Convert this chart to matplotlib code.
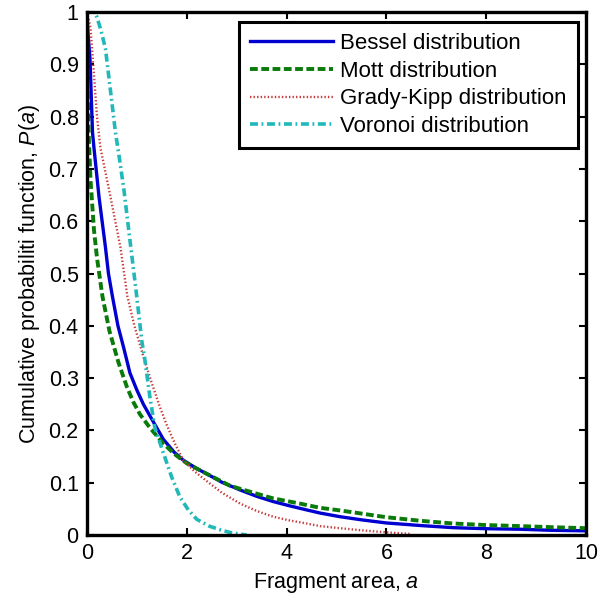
import matplotlib
matplotlib.use("Agg")
import matplotlib.pyplot as plt

plt.rcParams['font.family'] = ['Liberation Sans', 'DejaVu Sans']
plt.rcParams['mathtext.fontset'] = 'custom'
plt.rcParams['mathtext.rm'] = 'Liberation Sans'
plt.rcParams['mathtext.it'] = 'Liberation Sans:italic'

# Data
bessel_a = [0, 0.02, 0.06, 0.11, 0.14, 0.24, 0.37, 0.43, 0.51, 0.62, 0.73, 0.86, 1.0, 1.13,
            1.26, 1.53, 1.75, 1.93, 2.2, 2.4, 2.7, 3.07, 3.4, 3.73, 4.05, 4.4, 4.67, 5.07,
            5.5, 6.0, 6.7, 7.34, 8.0, 8.68, 9.3, 10]
bessel_p = [1.0, 0.96, 0.91, 0.77, 0.74, 0.647, 0.55, 0.50, 0.456, 0.40, 0.36, 0.31, 0.277, 0.25,
            0.228, 0.183, 0.158, 0.143, 0.127, 0.117, 0.101, 0.086, 0.074, 0.064, 0.056, 0.048, 0.042, 0.035,
            0.029, 0.023, 0.018, 0.014, 0.012, 0.011, 0.009, 0.008]

mott_a = [0, 0.005, 0.02, 0.04, 0.07, 0.14, 0.2, 0.31, 0.45, 0.63, 0.8, 0.93, 1.06, 1.26,
          1.53, 1.75, 2.0, 2.4, 2.87, 3.4, 3.73, 4.27, 4.67, 5.07, 6.0, 6.7, 7.34, 8.0,
          8.68, 9.3, 10]
mott_p = [1.0, 0.90, 0.82, 0.75, 0.68, 0.583, 0.53, 0.456, 0.39, 0.33, 0.283, 0.254, 0.231, 0.205,
          0.175, 0.155, 0.137, 0.117, 0.094, 0.079, 0.070, 0.060, 0.052, 0.047, 0.034, 0.027, 0.022, 0.019,
          0.017, 0.015, 0.013]

gk_a = [0, 0.07, 0.14, 0.2, 0.27, 0.47, 0.67, 0.81, 0.95, 1.13, 1.3, 1.46, 1.6, 1.76,
        1.93, 2.15, 2.4, 2.7, 3.07, 3.4, 3.73, 4.05, 4.4, 4.67, 5.07, 5.5, 6.0, 6.5]
gk_p = [1.0, 0.97, 0.88, 0.80, 0.74, 0.647, 0.55, 0.456, 0.40, 0.341, 0.29, 0.245, 0.21, 0.175,
        0.143, 0.122, 0.103, 0.081, 0.060, 0.046, 0.035, 0.028, 0.022, 0.017, 0.013, 0.009, 0.005, 0.002]

vor_a = [0, 0.15, 0.2, 0.28, 0.37, 0.47, 0.57, 0.65, 0.74, 0.84, 0.98, 1.1, 1.16, 1.26,
         1.36, 1.53, 1.7, 1.86, 2.03, 2.2, 2.45, 2.67, 2.9, 3.2]
vor_p = [1.0, 1.0, 0.99, 0.965, 0.93, 0.85, 0.77, 0.72, 0.66, 0.58, 0.47, 0.37, 0.335, 0.264,
         0.205, 0.157, 0.11, 0.073, 0.048, 0.03, 0.017, 0.01, 0.004, 0.0]

x_ticks = [0, 2, 4, 6, 8, 10]
y_ticks = [0, 0.1, 0.2, 0.3, 0.4, 0.5, 0.6, 0.7, 0.8, 0.9, 1]
y_ticklabels = ['0', '0.1', '0.2', '0.3', '0.4', '0.5', '0.6', '0.7', '0.8', '0.9', '1']

fig = plt.figure(figsize=(6.05, 6.02), dpi=100)
ax = fig.add_axes([0.1438, 0.1113, 0.8248, 0.8687])

ax.plot(bessel_a, bessel_p, color='#0000d0', lw=2.4, ls='-', label='Bessel distribution')
ax.plot(mott_a, mott_p, color='#0a7a0a', lw=2.8, ls=(0, (2.0, 0.9)), label='Mott distribution')
ax.plot(gk_a, gk_p, color='#c83c3c', lw=1.7, ls=(0, (0.6, 0.9)), label='Grady-Kipp distribution')
ax.plot(vor_a, vor_p, color='#20b8b8', lw=2.6, ls=(0, (2.2, 1.0, 0.5, 1.0)), label='Voronoi distribution')

ax.set_xlim(0, 10)
ax.set_ylim(0, 1)
ax.set_xticks(x_ticks)
ax.set_xticklabels([str(t) for t in x_ticks])
ax.set_yticks(y_ticks)
ax.set_yticklabels(y_ticklabels)
ax.tick_params(direction='in', top=True, right=True, length=5, width=1.5,
               labelsize=15.5, pad=6, colors='black')
for s in ax.spines.values():
    s.set_linewidth(2.4)

ax.set_xlabel('Fragment area, $a$', fontsize=15.5, labelpad=5)
ax.set_ylabel('Cumulative probabiliti function, $P(a)$', fontsize=15.5, labelpad=5)

leg = ax.legend(loc='upper right', bbox_to_anchor=(0.984, 0.981), fontsize=16,
                handlelength=3.7, handletextpad=0.35, borderpad=0.5, labelspacing=0.3,
                fancybox=False, framealpha=1, edgecolor='black', borderaxespad=0)
leg.get_frame().set_linewidth(2.2)

fig.savefig('out.png', dpi=100)
